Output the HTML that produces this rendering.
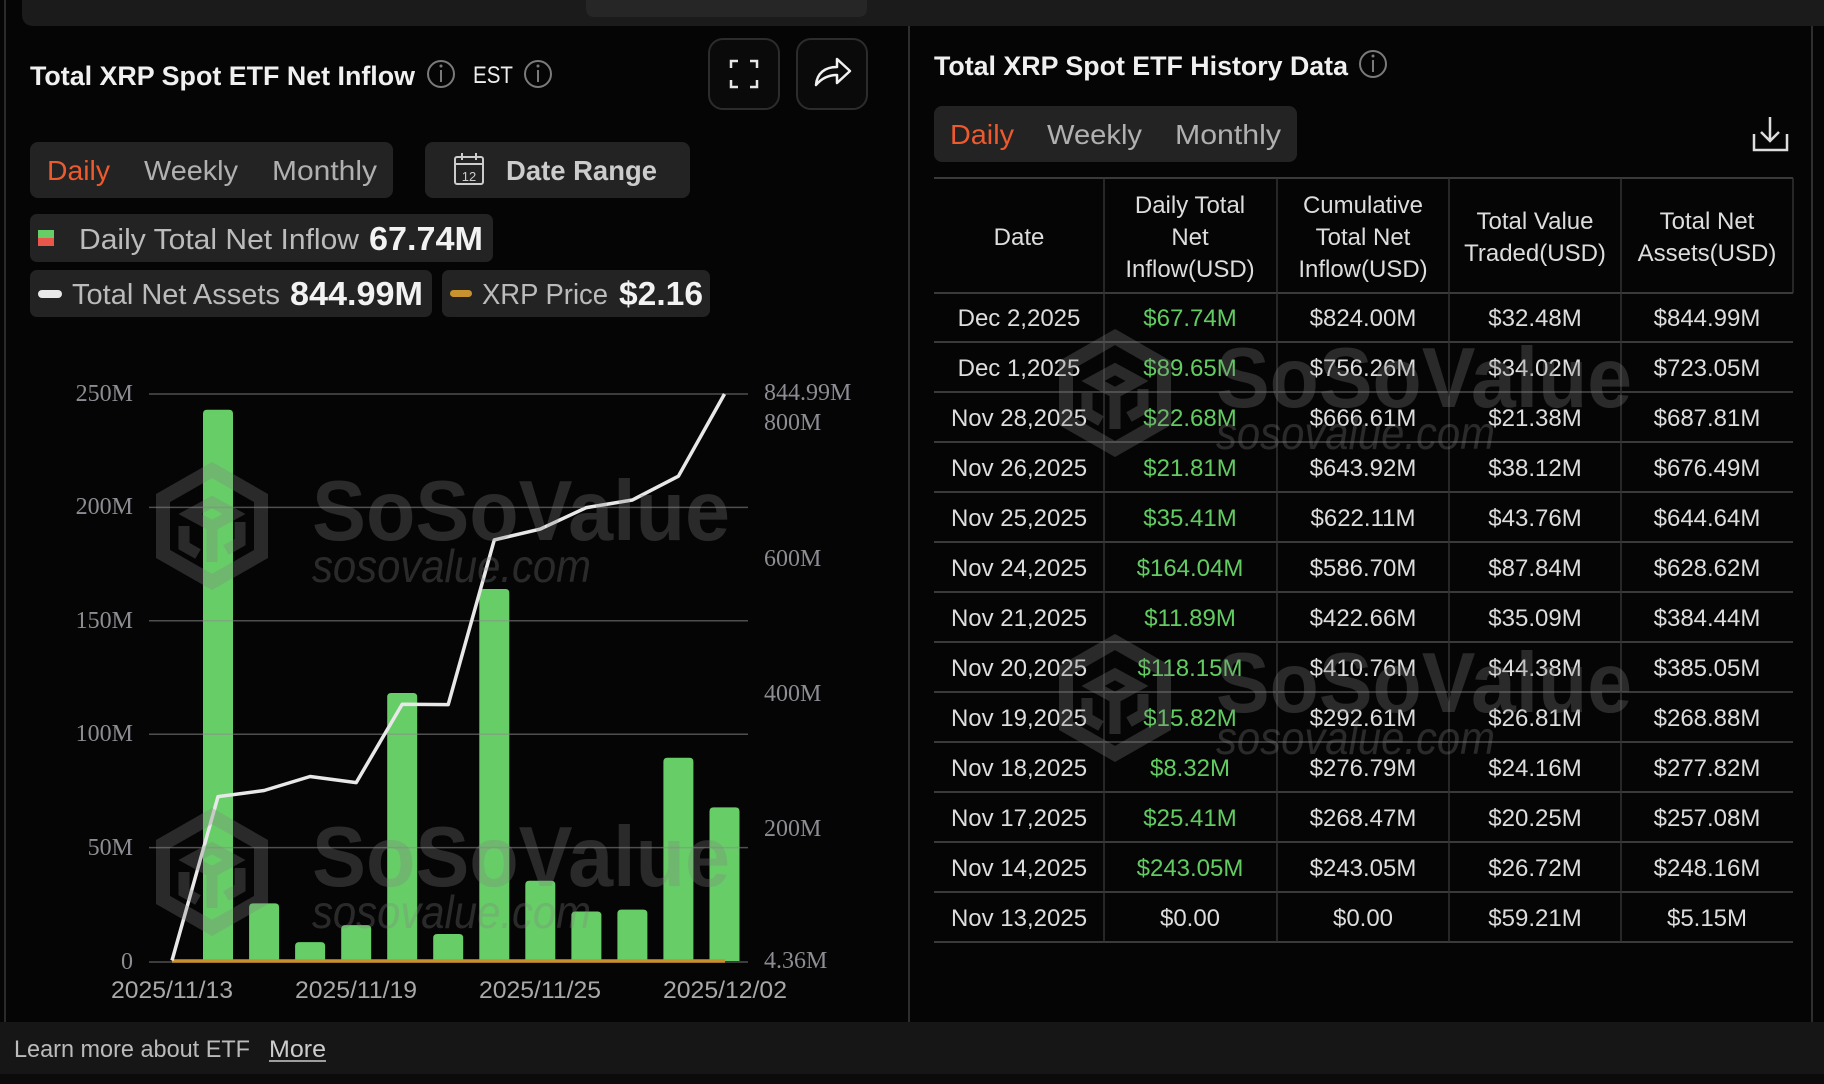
<!DOCTYPE html>
<html><head><meta charset="utf-8"><style>
html,body{margin:0;padding:0;background:#050505;width:1824px;height:1084px;overflow:hidden}
svg{display:block}
.s{font-family:"Liberation Sans",sans-serif}
.r{font-family:"Liberation Serif",serif}
</style></head><body>
<svg width="1824" height="1084" viewBox="0 0 1824 1084" xmlns="http://www.w3.org/2000/svg">
<rect x="0" y="0" width="1824" height="1084" fill="#050505"/>
<!-- top bar -->
<path d="M22 0 H1830 V26 H34 Q22 26 22 14 Z" fill="#1b1b1b"/>
<path d="M586 0 H867 V8 Q867 17 858 17 H595 Q586 17 586 8 Z" fill="#262626"/>
<!-- borders -->
<line x1="5" y1="0" x2="5" y2="1022" stroke="#2a2a2a" stroke-width="2"/>
<line x1="909" y1="26" x2="909" y2="1022" stroke="#2e2e2e" stroke-width="2"/>
<line x1="1812" y1="26" x2="1812" y2="1022" stroke="#2e2e2e" stroke-width="2"/>

<!-- LEFT PANEL HEADER -->
<text class="s" x="30" y="85" font-size="27" font-weight="bold" fill="#f0f0f0" textLength="385" lengthAdjust="spacingAndGlyphs">Total XRP Spot ETF Net Inflow</text>
<g stroke="#7a7a7a" stroke-width="2" fill="none"><circle cx="441" cy="74" r="13"/><line x1="441" y1="70" x2="441" y2="82"/></g>
<circle cx="441" cy="66" r="1.5" fill="#7a7a7a"/>
<text class="s" x="473" y="83" font-size="24" fill="#eeeeee" textLength="40" lengthAdjust="spacingAndGlyphs">EST</text>
<g stroke="#7a7a7a" stroke-width="2" fill="none"><circle cx="538" cy="74" r="13"/><line x1="538" y1="70" x2="538" y2="82"/></g>
<circle cx="538" cy="66" r="1.5" fill="#7a7a7a"/>
<rect x="709" y="39" width="70" height="70" rx="14" fill="#0a0a0a" stroke="#2c2c2c" stroke-width="2"/>
<rect x="797" y="39" width="70" height="70" rx="14" fill="#0a0a0a" stroke="#2c2c2c" stroke-width="2"/>
<path d="M731 68 V61 H738 M750 61 H757 V68 M757 80 V87 H750 M738 87 H731 V80" stroke="#e6e6e6" stroke-width="2.5" fill="none"/>
<path d="M816 85 C817 73 825 67 837 67 V59 L850 71 L837 83 V75 C828 75 821 79 816 85 Z" stroke="#f0f0f0" stroke-width="2.5" fill="none" stroke-linejoin="round"/>

<!-- tabs -->
<rect x="30" y="142" width="363" height="56" rx="8" fill="#232323"/>
<text class="s" x="47" y="180" font-size="28" fill="#ec5a2e" textLength="63" lengthAdjust="spacingAndGlyphs">Daily</text>
<text class="s" x="144" y="180" font-size="28" fill="#b0b0b0" textLength="94" lengthAdjust="spacingAndGlyphs">Weekly</text>
<text class="s" x="272" y="180" font-size="28" fill="#b0b0b0" textLength="105" lengthAdjust="spacingAndGlyphs">Monthly</text>
<rect x="425" y="142" width="265" height="56" rx="8" fill="#232323"/>
<g stroke="#cccccc" stroke-width="2" fill="none"><rect x="455" y="157" width="28" height="27" rx="2"/><line x1="455" y1="164" x2="483" y2="164"/><line x1="462" y1="153" x2="462" y2="160"/><line x1="476" y1="153" x2="476" y2="160"/></g>
<text class="s" x="469" y="181" font-size="13" fill="#cccccc" text-anchor="middle">12</text>
<text class="s" x="506" y="180" font-size="28" font-weight="bold" fill="#cccccc" textLength="151" lengthAdjust="spacingAndGlyphs">Date Range</text>

<!-- legends -->
<rect x="30" y="214" width="463" height="48" rx="7" fill="#232323"/>
<rect x="38" y="230" width="16" height="8" fill="#67cd67"/><rect x="38" y="238" width="16" height="8" fill="#e8574a"/>
<text class="s" x="79" y="249" font-size="29" fill="#bbbbbb" textLength="280" lengthAdjust="spacingAndGlyphs">Daily Total Net Inflow</text>
<text class="s" x="369" y="250" font-size="33" font-weight="bold" fill="#f2f2f2" textLength="114" lengthAdjust="spacingAndGlyphs">67.74M</text>
<rect x="30" y="270" width="402" height="47" rx="7" fill="#232323"/>
<rect x="38" y="290" width="24" height="8" rx="4" fill="#e8e8e8"/>
<text class="s" x="72" y="304" font-size="29" fill="#bbbbbb" textLength="208" lengthAdjust="spacingAndGlyphs">Total Net Assets</text>
<text class="s" x="290" y="305" font-size="33" font-weight="bold" fill="#f2f2f2" textLength="133" lengthAdjust="spacingAndGlyphs">844.99M</text>
<rect x="442" y="270" width="268" height="47" rx="7" fill="#232323"/>
<rect x="450" y="290" width="22" height="7" rx="3.5" fill="#c8922e"/>
<text class="s" x="482" y="304" font-size="29" fill="#bbbbbb" textLength="126" lengthAdjust="spacingAndGlyphs">XRP Price</text>
<text class="s" x="619" y="305" font-size="33" font-weight="bold" fill="#f2f2f2" textLength="84" lengthAdjust="spacingAndGlyphs">$2.16</text>

<!-- CHART -->
<g fill="#67cd67">
<path d="M203 961 V413.8 Q203 409.8 207 409.8 H229 Q233 409.8 233 413.8 V961 Z"/>
<path d="M249.1 961 V907.4 Q249.1 903.4 253.1 903.4 H275.1 Q279.1 903.4 279.1 907.4 V961 Z"/>
<path d="M295.1 961 V946.1 Q295.1 942.1 299.1 942.1 H321.1 Q325.1 942.1 325.1 946.1 V961 Z"/>
<path d="M341.2 961 V929.1 Q341.2 925.1 345.2 925.1 H367.2 Q371.2 925.1 371.2 929.1 V961 Z"/>
<path d="M387.2 961 V697 Q387.2 693 391.2 693 H413.2 Q417.2 693 417.2 697 V961 Z"/>
<path d="M433.2 961 V938 Q433.2 934 437.2 934 H459.2 Q463.2 934 463.2 938 V961 Z"/>
<path d="M479.3 961 V593 Q479.3 589 483.3 589 H505.3 Q509.3 589 509.3 593 V961 Z"/>
<path d="M525.3 961 V884.7 Q525.3 880.7 529.3 880.7 H551.3 Q555.3 880.7 555.3 884.7 V961 Z"/>
<path d="M571.4 961 V915.5 Q571.4 911.5 575.4 911.5 H597.4 Q601.4 911.5 601.4 915.5 V961 Z"/>
<path d="M617.4 961 V913.6 Q617.4 909.6 621.4 909.6 H643.4 Q647.4 909.6 647.4 913.6 V961 Z"/>
<path d="M663.4 961 V761.7 Q663.4 757.7 667.4 757.7 H689.4 Q693.4 757.7 693.4 761.7 V961 Z"/>
<path d="M709.5 961 V811.4 Q709.5 807.4 713.5 807.4 H735.5 Q739.5 807.4 739.5 811.4 V961 Z"/>
</g>
<g stroke="rgba(140,140,140,0.55)" stroke-width="1.5">
<line x1="149" y1="394" x2="748" y2="394"/>
<line x1="149" y1="507.4" x2="748" y2="507.4"/>
<line x1="149" y1="620.8" x2="748" y2="620.8"/>
<line x1="149" y1="734.2" x2="748" y2="734.2"/>
<line x1="149" y1="847.6" x2="748" y2="847.6"/>
<line x1="149" y1="962" x2="748" y2="962"/>
</g>
<line x1="172" y1="961" x2="725" y2="961" stroke="#c98f2c" stroke-width="3.5"/>
<polyline points="172,960.5 218,796.6 264.1,790.5 310.1,776.5 356.2,782.6 402.2,704.2 448.2,704.6 494.3,539.9 540.3,529.1 586.4,507.6 632.4,500 678.4,476.2 724.5,394" fill="none" stroke="#e8e8e8" stroke-width="3.5" stroke-linejoin="round"/>

<g class="r" font-size="24" fill="#8c8c92" text-anchor="end">
<text x="133" y="401">250M</text>
<text x="133" y="514">200M</text>
<text x="133" y="628">150M</text>
<text x="133" y="741">100M</text>
<text x="133" y="855">50M</text>
<text x="133" y="969">0</text>
</g>
<g class="r" font-size="24" fill="#8c8c92">
<text x="764" y="400">844.99M</text>
<text x="764" y="430">800M</text>
<text x="764" y="566">600M</text>
<text x="764" y="701">400M</text>
<text x="764" y="836">200M</text>
<text x="764" y="968">4.36M</text>
</g>
<g class="s" font-size="24" fill="#a8a8a8" text-anchor="middle">
<text x="172" y="998" textLength="122" lengthAdjust="spacingAndGlyphs">2025/11/13</text>
<text x="356" y="998" textLength="122" lengthAdjust="spacingAndGlyphs">2025/11/19</text>
<text x="540" y="998" textLength="122" lengthAdjust="spacingAndGlyphs">2025/11/25</text>
<text x="725" y="998" textLength="124" lengthAdjust="spacingAndGlyphs">2025/12/02</text>
</g>

<!-- RIGHT PANEL -->
<text class="s" x="934" y="75" font-size="27" font-weight="bold" fill="#f0f0f0" textLength="414" lengthAdjust="spacingAndGlyphs">Total XRP Spot ETF History Data</text>
<g stroke="#7a7a7a" stroke-width="2" fill="none"><circle cx="1373" cy="64" r="13"/><line x1="1373" y1="60" x2="1373" y2="72"/></g>
<circle cx="1373" cy="56" r="1.5" fill="#7a7a7a"/>
<rect x="934" y="106" width="363" height="56" rx="8" fill="#232323"/>
<text class="s" x="950" y="144" font-size="28" fill="#ec5a2e" textLength="64" lengthAdjust="spacingAndGlyphs">Daily</text>
<text class="s" x="1047" y="144" font-size="28" fill="#b0b0b0" textLength="95" lengthAdjust="spacingAndGlyphs">Weekly</text>
<text class="s" x="1175" y="144" font-size="28" fill="#b0b0b0" textLength="106" lengthAdjust="spacingAndGlyphs">Monthly</text>
<path d="M1770 117 V141 M1761 132 L1770 141 L1779 132 M1754 134 V150 H1787 V134" stroke="#dddddd" stroke-width="2.5" fill="none"/>

<!-- table lines -->
<g stroke="#3a3a3a" stroke-width="2">
<line x1="934" y1="178" x2="1793" y2="178"/>
<line x1="934" y1="293" x2="1793" y2="293"/>
<line x1="934" y1="342" x2="1793" y2="342"/>
<line x1="934" y1="392" x2="1793" y2="392"/>
<line x1="934" y1="442" x2="1793" y2="442"/>
<line x1="934" y1="492" x2="1793" y2="492"/>
<line x1="934" y1="542" x2="1793" y2="542"/>
<line x1="934" y1="592" x2="1793" y2="592"/>
<line x1="934" y1="642" x2="1793" y2="642"/>
<line x1="934" y1="692" x2="1793" y2="692"/>
<line x1="934" y1="742" x2="1793" y2="742"/>
<line x1="934" y1="792" x2="1793" y2="792"/>
<line x1="934" y1="842" x2="1793" y2="842"/>
<line x1="934" y1="892" x2="1793" y2="892"/>
<line x1="934" y1="942" x2="1793" y2="942"/>
</g>
<g stroke="#333333" stroke-width="1.5">
<line x1="1104" y1="178" x2="1104" y2="942"/>
<line x1="1277" y1="178" x2="1277" y2="942"/>
<line x1="1449" y1="178" x2="1449" y2="942"/>
<line x1="1621" y1="178" x2="1621" y2="942"/>
<line x1="1793" y1="178" x2="1793" y2="293"/>
</g>
<g class="s" font-size="24" fill="#dddddd" text-anchor="middle">
<text x="1019" y="245">Date</text>
<text x="1190" y="213">Daily Total</text><text x="1190" y="245">Net</text><text x="1190" y="277">Inflow(USD)</text>
<text x="1363" y="213">Cumulative</text><text x="1363" y="245">Total Net</text><text x="1363" y="277">Inflow(USD)</text>
<text x="1535" y="229">Total Value</text><text x="1535" y="261">Traded(USD)</text>
<text x="1707" y="229">Total Net</text><text x="1707" y="261">Assets(USD)</text>
</g>
<g class="s" font-size="24" fill="#dddddd" text-anchor="middle">
<text x="1019" y="326">Dec 2,2025</text><text x="1363" y="326">$824.00M</text><text x="1535" y="326">$32.48M</text><text x="1707" y="326">$844.99M</text>
<text x="1019" y="376">Dec 1,2025</text><text x="1363" y="376">$756.26M</text><text x="1535" y="376">$34.02M</text><text x="1707" y="376">$723.05M</text>
<text x="1019" y="426">Nov 28,2025</text><text x="1363" y="426">$666.61M</text><text x="1535" y="426">$21.38M</text><text x="1707" y="426">$687.81M</text>
<text x="1019" y="476">Nov 26,2025</text><text x="1363" y="476">$643.92M</text><text x="1535" y="476">$38.12M</text><text x="1707" y="476">$676.49M</text>
<text x="1019" y="526">Nov 25,2025</text><text x="1363" y="526">$622.11M</text><text x="1535" y="526">$43.76M</text><text x="1707" y="526">$644.64M</text>
<text x="1019" y="576">Nov 24,2025</text><text x="1363" y="576">$586.70M</text><text x="1535" y="576">$87.84M</text><text x="1707" y="576">$628.62M</text>
<text x="1019" y="626">Nov 21,2025</text><text x="1363" y="626">$422.66M</text><text x="1535" y="626">$35.09M</text><text x="1707" y="626">$384.44M</text>
<text x="1019" y="676">Nov 20,2025</text><text x="1363" y="676">$410.76M</text><text x="1535" y="676">$44.38M</text><text x="1707" y="676">$385.05M</text>
<text x="1019" y="726">Nov 19,2025</text><text x="1363" y="726">$292.61M</text><text x="1535" y="726">$26.81M</text><text x="1707" y="726">$268.88M</text>
<text x="1019" y="776">Nov 18,2025</text><text x="1363" y="776">$276.79M</text><text x="1535" y="776">$24.16M</text><text x="1707" y="776">$277.82M</text>
<text x="1019" y="826">Nov 17,2025</text><text x="1363" y="826">$268.47M</text><text x="1535" y="826">$20.25M</text><text x="1707" y="826">$257.08M</text>
<text x="1019" y="876">Nov 14,2025</text><text x="1363" y="876">$243.05M</text><text x="1535" y="876">$26.72M</text><text x="1707" y="876">$248.16M</text>
<text x="1019" y="926">Nov 13,2025</text><text x="1190" y="926">$0.00</text><text x="1363" y="926">$0.00</text><text x="1535" y="926">$59.21M</text><text x="1707" y="926">$5.15M</text>
</g>
<g class="s" font-size="24" fill="#62cc62" text-anchor="middle">
<text x="1190" y="326">$67.74M</text>
<text x="1190" y="376">$89.65M</text>
<text x="1190" y="426">$22.68M</text>
<text x="1190" y="476">$21.81M</text>
<text x="1190" y="526">$35.41M</text>
<text x="1190" y="576">$164.04M</text>
<text x="1190" y="626">$11.89M</text>
<text x="1190" y="676">$118.15M</text>
<text x="1190" y="726">$15.82M</text>
<text x="1190" y="776">$8.32M</text>
<text x="1190" y="826">$25.41M</text>
<text x="1190" y="876">$243.05M</text>
</g>

<!-- WATERMARKS -->
<g fill="none" stroke="rgba(128,128,128,0.3)" stroke-width="14" stroke-linejoin="miter">
<g transform="translate(156,462)"><path d="M56 8 L105 36 L105 92 L56 120 L7 92 L7 36 Z"/><path d="M34 52 L56 40 L78 52 L56 64 Z M56 64 V100 M28 64 V84 L42 92 M84 60 V80 L70 88" stroke-width="11"/></g>
<g transform="translate(156,808)"><path d="M56 8 L105 36 L105 92 L56 120 L7 92 L7 36 Z"/><path d="M34 52 L56 40 L78 52 L56 64 Z M56 64 V100 M28 64 V84 L42 92 M84 60 V80 L70 88" stroke-width="11"/></g>
<g transform="translate(1059,329)"><path d="M56 8 L105 36 L105 92 L56 120 L7 92 L7 36 Z"/><path d="M34 52 L56 40 L78 52 L56 64 Z M56 64 V100 M28 64 V84 L42 92 M84 60 V80 L70 88" stroke-width="11"/></g>
<g transform="translate(1059,634)"><path d="M56 8 L105 36 L105 92 L56 120 L7 92 L7 36 Z"/><path d="M34 52 L56 40 L78 52 L56 64 Z M56 64 V100 M28 64 V84 L42 92 M84 60 V80 L70 88" stroke-width="11"/></g>
</g>
<g class="s" fill="rgba(128,128,128,0.3)">
<text x="312" y="540" font-size="85" font-weight="bold" textLength="418" lengthAdjust="spacingAndGlyphs">SoSoValue</text>
<text x="312" y="582" font-size="46" font-style="italic" textLength="279" lengthAdjust="spacingAndGlyphs">sosovalue.com</text>
<text x="312" y="886" font-size="85" font-weight="bold" textLength="418" lengthAdjust="spacingAndGlyphs">SoSoValue</text>
<text x="312" y="928" font-size="46" font-style="italic" textLength="279" lengthAdjust="spacingAndGlyphs">sosovalue.com</text>
<text x="1216" y="407" font-size="85" font-weight="bold" textLength="416" lengthAdjust="spacingAndGlyphs">SoSoValue</text>
<text x="1216" y="449" font-size="46" font-style="italic" textLength="279" lengthAdjust="spacingAndGlyphs">sosovalue.com</text>
<text x="1216" y="712" font-size="85" font-weight="bold" textLength="416" lengthAdjust="spacingAndGlyphs">SoSoValue</text>
<text x="1216" y="754" font-size="46" font-style="italic" textLength="279" lengthAdjust="spacingAndGlyphs">sosovalue.com</text>
</g>

<!-- FOOTER -->
<rect x="0" y="1022" width="1824" height="52" fill="#161616"/>
<rect x="0" y="1074" width="1824" height="10" fill="#0b0b0b"/>
<text class="s" x="14" y="1057" font-size="24" fill="#bbbbbb" textLength="236" lengthAdjust="spacingAndGlyphs">Learn more about ETF</text>
<text class="s" x="269" y="1057" font-size="24" fill="#cccccc" textLength="57" lengthAdjust="spacingAndGlyphs">More</text>
<line x1="269" y1="1061" x2="326" y2="1061" stroke="#cccccc" stroke-width="1.5"/>
</svg>
</body></html>
